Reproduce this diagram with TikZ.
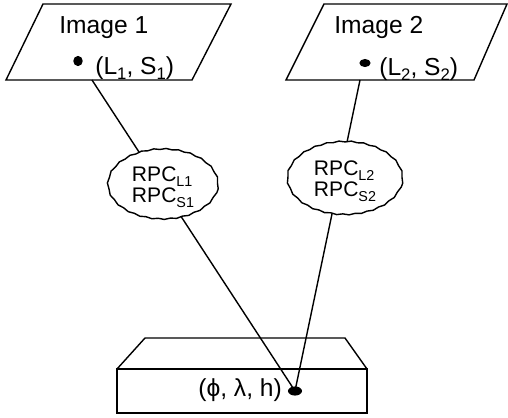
\documentclass[tikz,border=0pt]{standalone}
\usepackage{fontspec}
\usepackage{graphicx}
\setmainfont{Liberation Sans}
\usetikzlibrary{shapes.geometric,decorations.pathmorphing}
\newcommand\lowsub[1]{\raisebox{-3pt}{\scalebox{0.68}{#1}}}

\begin{document}
\begin{tikzpicture}[x=0.02cm,y=-0.02cm,
    frame/.style={line width=0.8pt},
    conn/.style={line width=0.8pt},
    imgtxt/.style={font=\fontsize{14}{16}\selectfont, inner sep=0pt},
    dotnode/.style={ellipse, fill=black, inner sep=0pt},
    rpc/.style={ellipse, draw, fill=white, line width=0.8pt, inner sep=0pt,
      minimum width=2.2cm, minimum height=1.4cm, align=left,
      decorate, decoration={snake, amplitude=0.3pt, segment length=7pt},
      font=\fontsize{12}{12}\selectfont}]
  \useasboundingbox (0,0) rectangle (508,417);

  % imaginile
  \draw[frame] (43,4) -- (231,4) -- (192,80) -- (6,80) -- cycle;
  \draw[frame] (324,4) -- (507,4) -- (474,80) -- (286,80) -- cycle;
  \node[imgtxt, anchor=base west] (img1) at (59,33) {Image 1};
  \node[imgtxt, anchor=base west] (img2) at (334,33) {Image 2};
  \node[dotnode, minimum width=5.4pt, minimum height=5.8pt] (p1) at (78,61) {};
  \node[dotnode, minimum width=6.4pt, minimum height=4.6pt] (p2) at (365,63) {};
  \node[imgtxt, anchor=base west] (ls1) at (95,74) {(L\lowsub{1}, S\lowsub{1})};
  \node[imgtxt, anchor=base west] (ls2) at (379,75) {(L\lowsub{2}, S\lowsub{2})};
  \coordinate (f1) at (92,80);
  \coordinate (f2) at (360,80);

  % teren
  \draw[frame] (117,369) rectangle (367,413);
  \draw[frame] (117,369) -- (145,338) -- (345,338) -- (367,369);
  \node[imgtxt, anchor=base west] (geo) at (198,396) {(ϕ, λ, h)};
  \node[dotnode, minimum width=8pt, minimum height=5.2pt] (g) at (295,391) {};

  % liniile
  \draw[conn] (f1) -- (g.center);
  \draw[conn] (f2) -- (g.center);

  % elipsele RPC
  \node[rpc] (rpc1) at (163,187) {RPC\lowsub{L1}\\RPC\lowsub{S1}};
  \node[rpc, minimum width=2.3cm, minimum height=1.46cm] (rpc2) at (345,181) {RPC\lowsub{L2}\\RPC\lowsub{S2}};
\end{tikzpicture}
\end{document}
